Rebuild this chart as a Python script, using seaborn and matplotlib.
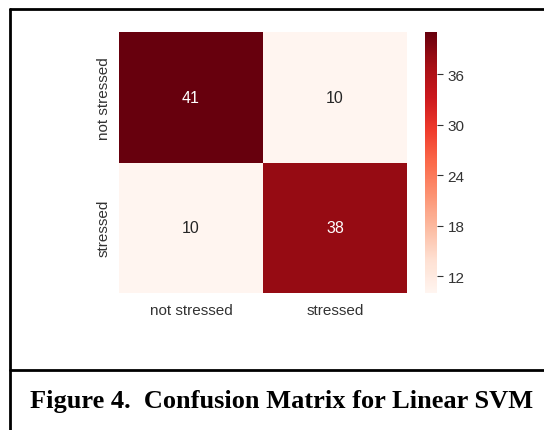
import matplotlib
matplotlib.use("Agg")
import matplotlib.pyplot as plt
import seaborn as sns
import numpy as np
from matplotlib.lines import Line2D

labels = ["not stressed", "stressed"]
row_not_stressed = [41, 10]
row_stressed = [10, 38]
cbar_ticks = [12, 18, 24, 30, 36]
caption = "Figure 4.  Confusion Matrix for Linear SVM"

cm = np.array([row_not_stressed, row_stressed])

sns.set_theme(style="white")
plt.rcParams['font.family'] = ['Liberation Sans', 'DejaVu Sans']

fig = plt.figure(figsize=(5.44, 4.31), dpi=100)
ax = fig.add_axes([119/544, 1-294/431, 288/544, 261/431])
cax = fig.add_axes([425/544, 1-294/431, 12/544, 261/431])

sns.heatmap(cm, annot=True, fmt="d", cmap="Reds", ax=ax, cbar_ax=cax,
            xticklabels=labels, yticklabels=labels,
            annot_kws={"size": 11.5})
ax.tick_params(axis="both", length=0, labelsize=11, colors="#333333")
ax.tick_params(axis="x", pad=7)
ax.tick_params(axis="y", pad=6)
for t in ax.get_yticklabels():
    t.set_rotation(90)
    t.set_va("center")
cax.set_yticks(cbar_ticks)
cax.tick_params(axis="y", length=4, width=0.8, labelsize=11, colors="#333333", right=True)

# frame
lw = 2
fig.add_artist(Line2D([10/544, 10/544], [0, 1-10/431], transform=fig.transFigure, color="black", lw=lw))
fig.add_artist(Line2D([10/544, 1], [1-10/431, 1-10/431], transform=fig.transFigure, color="black", lw=lw))
fig.add_artist(Line2D([10/544, 1], [1-371/431, 1-371/431], transform=fig.transFigure, color="black", lw=lw))

fig.text(282/544, 1-402/431, caption, ha="center", va="center",
         family="Liberation Serif", fontweight="bold", fontsize=19, color="black")

fig.savefig("out.png", dpi=100)
